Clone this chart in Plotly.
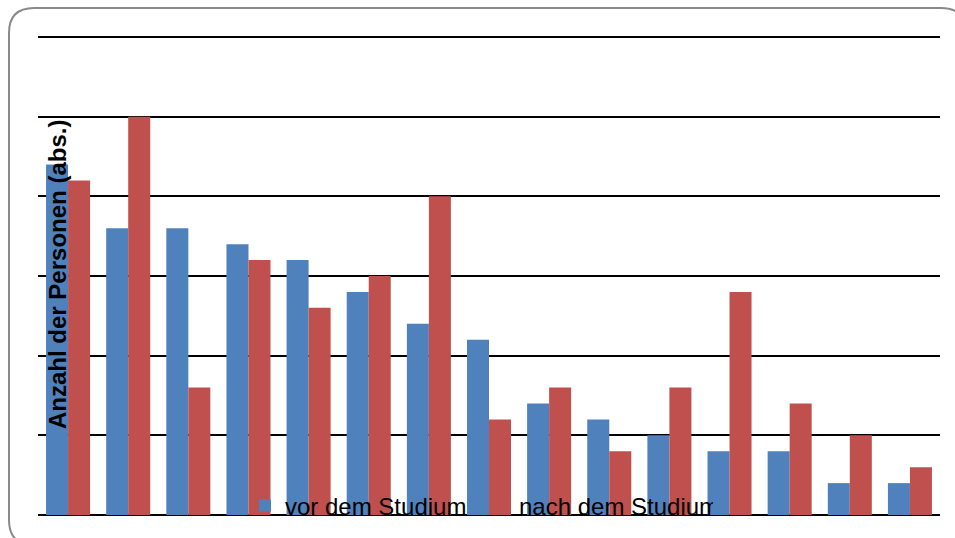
import plotly.graph_objects as go

categories = [str(i) for i in range(1, 16)]
vor_dem_studium = [22, 18, 18, 17, 16, 14, 12, 11, 7, 6, 5, 4, 4, 2, 2]
nach_dem_studium = [21, 25, 8, 16, 13, 15, 20, 6, 8, 4, 8, 14, 7, 5, 3]
series_names = ["vor dem Studium", "nach dem Studium"]
y_title = "Anzahl der Personen (abs.)"
y_max = 30

W, H = 955, 538
ML, MR, MT, MB = 38, 15, 37, 23
PW, PH = W - ML - MR, H - MT - MB


def px(x):
    return (x - ML) / PW


def py(y):
    return (H - MB - y) / PH


fig = go.Figure()
fig.add_trace(go.Bar(x=categories, y=vor_dem_studium, name=series_names[0],
                     marker=dict(color="#4F81BD", line=dict(width=0))))
fig.add_trace(go.Bar(x=categories, y=nach_dem_studium, name=series_names[1],
                     marker=dict(color="#C0504D", line=dict(width=0))))

# rounded frame
x0, y0, x1, y1, r = 9, 8, 966, 545, 25
path = (
    f"M {px(x0 + r)},{py(y0)} L {px(x1 - r)},{py(y0)} "
    f"Q {px(x1)},{py(y0)} {px(x1)},{py(y0 + r)} "
    f"L {px(x1)},{py(y1 - r)} Q {px(x1)},{py(y1)} {px(x1 - r)},{py(y1)} "
    f"L {px(x0 + r)},{py(y1)} Q {px(x0)},{py(y1)} {px(x0)},{py(y1 - r)} "
    f"L {px(x0)},{py(y0 + r)} Q {px(x0)},{py(y0)} {px(x0 + r)},{py(y0)} Z"
)
fig.add_shape(type="path", path=path, xref="paper", yref="paper",
              line=dict(color="#8a8a8a", width=2), layer="below")

# top gridline (at the top of the value range, not clipped)
fig.add_shape(type="line", xref="paper", yref="paper", x0=0, x1=1, y0=1, y1=1,
              line=dict(color="black", width=2), layer="below")

fig.add_annotation(text=y_title, textangle=-90, xref="paper", yref="paper",
                   x=px(57.5), y=py(274.5), xanchor="center", yanchor="middle",
                   showarrow=False,
                   font=dict(family="Arial, Liberation Sans", size=24, color="black", weight="bold"))

fig.update_layout(
    width=W, height=H,
    margin=dict(l=ML, r=MR, t=MT, b=MB, autoexpand=False),
    paper_bgcolor="white", plot_bgcolor="white",
    barmode="group", bargap=0.268, bargroupgap=0,
    font=dict(family="Arial, Liberation Sans", color="black"),
    showlegend=True,
    legend=dict(orientation="h", x=px(245), y=py(506), xanchor="left", yanchor="middle",
                bgcolor="rgba(0,0,0,0)", font=dict(size=24, color="black"),
                entrywidth=189, entrywidthmode="pixels", itemclick=False),
    xaxis=dict(showticklabels=False, showgrid=False, showline=False, ticks="",
               zeroline=False),
    yaxis=dict(range=[0, y_max], dtick=5, showticklabels=False, ticks="",
               showgrid=True, gridcolor="black", gridwidth=2,
               zeroline=True, zerolinecolor="black", zerolinewidth=2, showline=False),
)

fig.write_html("out.html")
